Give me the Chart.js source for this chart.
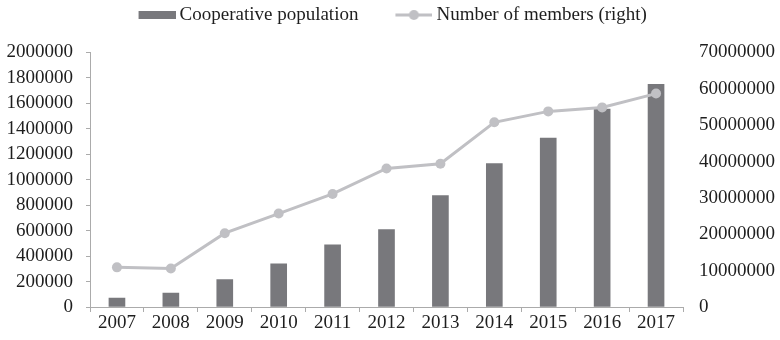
<!DOCTYPE html>
<html>
<head>
<meta charset="utf-8">
<script src="https://cdn.jsdelivr.net/npm/chart.js@4/dist/chart.umd.min.js"></script>
<style>
  html, body { margin: 0; padding: 0; background: #ffffff; }
  #wrap { width: 780px; height: 340px; position: relative; }
</style>
</head>
<body>
<div id="wrap"><canvas id="c"></canvas></div>
<script>
// ---- data ----
const years = ['2007', '2008', '2009', '2010', '2011', '2012', '2013', '2014', '2015', '2016', '2017'];
const cooperativePopulation = [70000, 110000, 215000, 340000, 488000, 608000, 876000, 1128000, 1328000, 1556000, 1749000];
const numberOfMembers = [10900000, 10600000, 20300000, 25700000, 31100000, 38100000, 39400000, 50800000, 53800000, 54900000, 58700000];
const seriesNames = ['Cooperative population', 'Number of members (right)'];
const leftTicks = [0, 200000, 400000, 600000, 800000, 1000000, 1200000, 1400000, 1600000, 1800000, 2000000];
const rightTicks = [0, 10000000, 20000000, 30000000, 40000000, 50000000, 60000000, 70000000];

// ---- styles ----
const barColor = '#78787c';
const lineColor = '#c0c0c4';
const axisColor = '#ababab';
const textColor = '#1e1e1e';

Chart.defaults.font.family = "'Liberation Serif', 'Times New Roman', serif";
Chart.defaults.font.size = 19;
Chart.defaults.color = textColor;

function makeSwatch(kind) {
  const cv = document.createElement('canvas');
  cv.width = 74; cv.height = 12;
  const g = cv.getContext('2d');
  if (kind === 'bar') {
    g.fillStyle = barColor;
    g.fillRect(37, 2, 37, 8);
  } else {
    g.strokeStyle = lineColor;
    g.lineWidth = 3;
    g.beginPath(); g.moveTo(37, 6); g.lineTo(74, 6); g.stroke();
    g.fillStyle = lineColor;
    g.beginPath(); g.arc(55.5, 6, 5, 0, Math.PI * 2); g.fill();
  }
  return cv;
}
const swatches = [makeSwatch('bar'), makeSwatch('line')];

// extra space below the legend, and a small leftward shift of the legend row
const legendTweak = {
  id: 'legendTweak',
  beforeInit(chart) {
    const origFit = chart.legend.fit;
    chart.legend.fit = function () {
      origFit.bind(chart.legend)();
      this.height += 18;
    };
  },
  afterLayout(chart) {
    if (chart.legend) {
      chart.legend.left -= 26;
    }
  }
};

new Chart(document.getElementById('c'), {
  type: 'bar',
  plugins: [legendTweak],
  data: {
    labels: years,
    datasets: [
      {
        type: 'bar',
        label: seriesNames[0],
        data: cooperativePopulation,
        yAxisID: 'y',
        backgroundColor: barColor,
        barThickness: 16,
        order: 1
      },
      {
        type: 'line',
        label: seriesNames[1],
        data: numberOfMembers,
        yAxisID: 'y1',
        borderColor: lineColor,
        backgroundColor: lineColor,
        borderWidth: 3,
        pointRadius: 5,
        pointBackgroundColor: lineColor,
        pointBorderWidth: 0,
        tension: 0,
        order: 0
      }
    ]
  },
  options: {
    responsive: true,
    maintainAspectRatio: false,
    animation: false,
    layout: { padding: { top: 0, left: 0, right: 0, bottom: 0 } },
    plugins: {
      tooltip: { enabled: false },
      legend: {
        display: true,
        position: 'top',
        align: 'center',
        labels: {
          usePointStyle: true,
          pointStyleWidth: 63,
          padding: 5.5,
          color: textColor,
          font: { size: 19 },
          generateLabels: (chart) => chart.data.datasets.map((ds, i) => ({
            text: ds.label,
            pointStyle: swatches[i],
            fillStyle: 'rgba(0,0,0,0)',
            strokeStyle: 'rgba(0,0,0,0)',
            lineWidth: 0,
            hidden: false,
            datasetIndex: i,
            fontColor: textColor
          }))
        }
      }
    },
    scales: {
      x: {
        offset: true,
        grid: { display: true, drawOnChartArea: false, drawTicks: true, tickLength: 5, color: axisColor, offset: true },
        border: { display: true, color: axisColor, width: 1 },
        ticks: { padding: 0, maxRotation: 0, autoSkip: false, color: textColor },
        afterFit: (s) => { s.height = 33; }
      },
      y: {
        position: 'left',
        min: 0,
        max: 2000000,
        afterBuildTicks: (s) => { s.ticks = leftTicks.map(v => ({ value: v })); },
        ticks: { padding: 13, autoSkip: false, color: textColor, callback: (v) => String(v) },
        grid: { display: true, drawOnChartArea: false, drawTicks: true, tickLength: 4, color: axisColor },
        border: { display: true, color: axisColor, width: 1 },
        afterFit: (s) => { s.width = 90; }
      },
      y1: {
        position: 'right',
        min: 0,
        max: 70000000,
        afterBuildTicks: (s) => { s.ticks = rightTicks.map(v => ({ value: v })); },
        ticks: { padding: 16, autoSkip: false, color: textColor, callback: (v) => String(v) },
        grid: { display: false, drawOnChartArea: false, drawTicks: false, tickLength: 0 },
        border: { display: false },
        afterFit: (s) => { s.width = 97; }
      }
    }
  }
});
</script>
</body>
</html>
